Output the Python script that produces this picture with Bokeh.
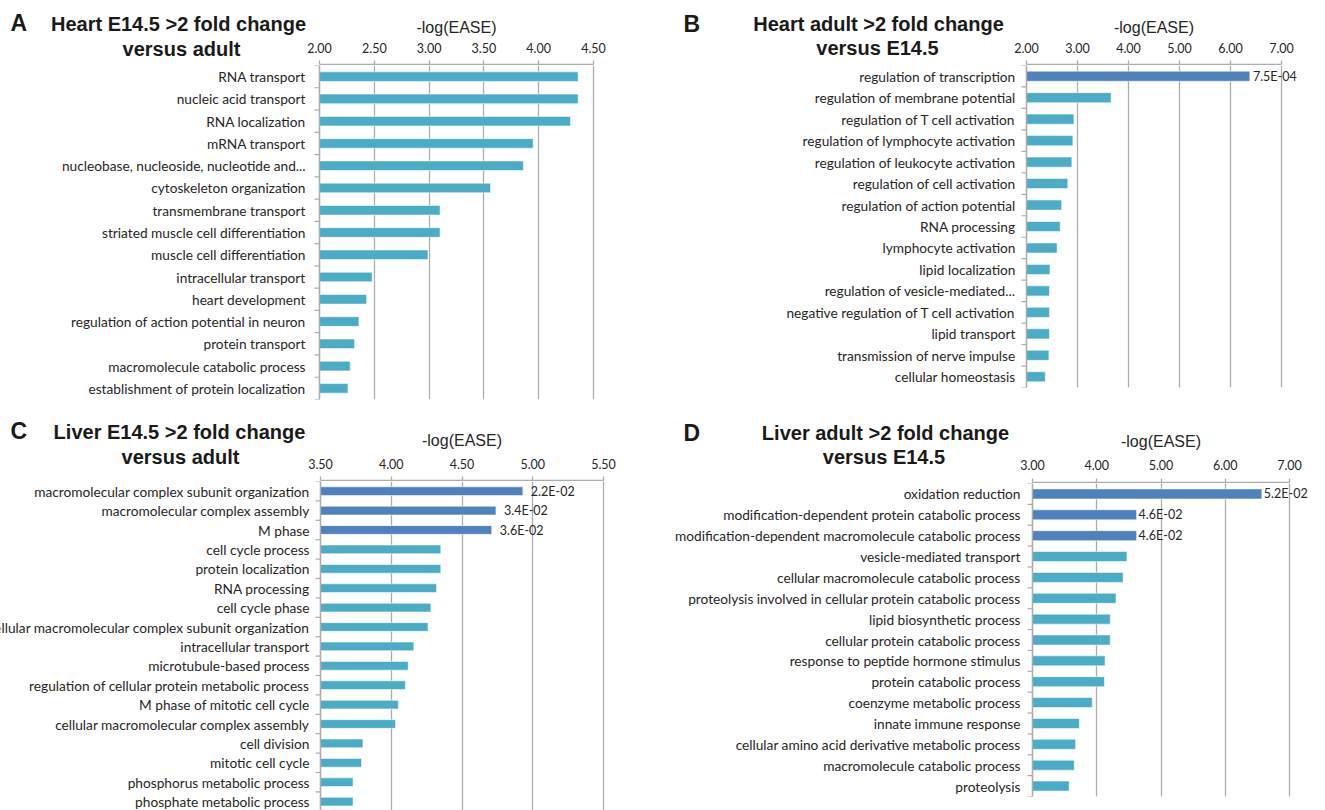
import numpy as np
from bokeh.plotting import figure
from bokeh.models import ColumnDataSource, Range1d, FixedTicker, NumeralTickFormatter, Grid
from bokeh.layouts import column, row
from bokeh.core.properties import value
from bokeh.embed import file_html
from bokeh.resources import INLINE

TEAL = "#4BACC6"
BLUE = "#4F81BD"
TXT = "#262626"
GRID = "#ADADAD"

# ---------------- data ----------------
A_letter = "A"
A_title = ["Heart E14.5 >2 fold change", "versus adult"]
A_cats = ["RNA transport", "nucleic acid transport", "RNA localization", "mRNA transport",
          "nucleobase, nucleoside, nucleotide and...", "cytoskeleton organization",
          "transmembrane transport", "striated muscle cell differentiation",
          "muscle cell differentiation", "intracellular transport", "heart development",
          "regulation of action potential in neuron", "protein transport",
          "macromolecule catabolic process", "establishment of protein localization"]
A_vals = [4.36, 4.36, 4.29, 3.95, 3.86, 3.56, 3.10, 3.10, 2.99, 2.48, 2.43, 2.36, 2.32, 2.28, 2.26]
A_notes = ["", "", "", "", "", "", "", "", "", "", "", "", "", "", ""]
A_ticks = [2.0, 2.5, 3.0, 3.5, 4.0, 4.5]

B_letter = "B"
B_title = ["Heart adult >2 fold change", "versus E14.5"]
B_cats = ["regulation of transcription", "regulation of membrane potential",
          "regulation of T cell activation", "regulation of lymphocyte activation",
          "regulation of leukocyte activation", "regulation of cell activation",
          "regulation of action potential", "RNA processing", "lymphocyte activation",
          "lipid localization", "regulation of vesicle-mediated...",
          "negative regulation of T cell activation", "lipid transport",
          "transmission of nerve impulse", "cellular homeostasis"]
B_vals = [6.38, 3.66, 2.93, 2.91, 2.89, 2.81, 2.69, 2.66, 2.60, 2.46, 2.45, 2.45, 2.45, 2.44, 2.37]
B_notes = ["7.5E-04", "", "", "", "", "", "", "", "", "", "", "", "", "", ""]
B_ticks = [2.0, 3.0, 4.0, 5.0, 6.0, 7.0]

C_letter = "C"
C_title = ["Liver E14.5 >2 fold change", "versus adult"]
C_cats = ["macromolecular complex subunit organization", "macromolecular complex assembly",
          "M phase", "cell cycle process", "protein localization", "RNA processing",
          "cell cycle phase", "cellular macromolecular complex subunit organization",
          "intracellular transport", "microtubule-based process",
          "regulation of cellular protein metabolic process", "M phase of mitotic cell cycle",
          "cellular macromolecular complex assembly", "cell division", "mitotic cell cycle",
          "phosphorus metabolic process", "phosphate metabolic process"]
C_vals = [4.93, 4.74, 4.71, 4.35, 4.35, 4.32, 4.28, 4.26, 4.16, 4.12, 4.10, 4.05, 4.03,
          3.80, 3.79, 3.73, 3.73]
C_notes = ["2.2E-02", "3.4E-02", "3.6E-02", "", "", "", "", "", "", "", "", "", "", "", "", "", ""]
C_ticks = [3.5, 4.0, 4.5, 5.0, 5.5]

D_letter = "D"
D_title = ["Liver adult >2 fold change", "versus E14.5"]
D_cats = ["oxidation reduction", "modification-dependent protein catabolic process",
          "modification-dependent macromolecule catabolic process", "vesicle-mediated transport",
          "cellular macromolecule catabolic process",
          "proteolysis involved in cellular protein catabolic process",
          "lipid biosynthetic process", "cellular protein catabolic process",
          "response to peptide hormone stimulus", "protein catabolic process",
          "coenzyme metabolic process", "innate immune response",
          "cellular amino acid derivative metabolic process",
          "macromolecule catabolic process", "proteolysis"]
D_vals = [6.57, 4.62, 4.62, 4.47, 4.41, 4.30, 4.21, 4.21, 4.13, 4.12, 3.93, 3.73, 3.67, 3.65, 3.57]
D_notes = ["5.2E-02", "4.6E-02", "4.6E-02", "", "", "", "", "", "", "", "", "", "", "", ""]
D_ticks = [3.0, 4.0, 5.0, 6.0, 7.0]


def base_fig(**kw):
    f = figure(output_backend="svg", toolbar_location=None, **kw)
    f.outline_line_color = None
    f.background_fill_color = None
    f.border_fill_color = None
    try:
        f.frame_align = False   # keep each small figure's own frame geometry
    except Exception:
        pass
    return f


def panel(letter, title, cats, vals, notes, ticks, g):
    W, H, T, Bb, Wt, L, axis_px = g["W"], g["H"], g["T"], g["Bb"], g["Wt"], g["L"], g["axis_px"]
    n = len(cats)
    ppu = axis_px / (ticks[-1] - ticks[0])

    # ---- title block (letter + two bold lines)
    t = base_fig(width=Wt, height=T, x_range=Range1d(0, Wt), y_range=Range1d(T, 0),
                 x_axis_type=None, y_axis_type=None, min_border=0)
    sp = g["spots"]
    t.text(x=[sp[0][0]], y=[sp[0][1]], text=[letter], text_font=value("Liberation Sans"),
           text_font_style="bold", text_font_size=value("23px"), text_color="#1a1a1a",
           text_align="left", text_baseline="middle")
    t.text(x=[sp[1][0], sp[2][0]], y=[sp[1][1], sp[2][1]], text=title,
           text_font=value("Liberation Sans"), text_font_style="bold",
           text_font_size=value("20px"), text_color="#1a1a1a",
           text_align="center", text_baseline="middle")

    # ---- value axis (top)
    a = base_fig(width=W - Wt, height=T, x_range=Range1d(ticks[0], ticks[-1]),
                 y_range=Range1d(0, 1), x_axis_location="above", y_axis_type=None,
                 min_border_left=L - Wt, min_border_right=W - L - axis_px,
                 min_border_top=T - 1, min_border_bottom=0)
    a.xgrid.visible = False
    xa = a.xaxis[0]
    xa.ticker = FixedTicker(ticks=ticks)
    xa.formatter = NumeralTickFormatter(format="0.00")
    xa.axis_label = "-log(EASE)"
    xa.axis_label_text_font = "Liberation Sans"
    xa.axis_label_text_font_style = "normal"
    xa.axis_label_text_font_size = "16px"
    xa.axis_label_text_color = TXT
    xa.axis_label_standoff = g["lab_sto"]
    xa.major_label_text_font = "Lato"
    xa.major_label_text_font_size = "12.5px"
    xa.major_label_text_color = TXT
    xa.major_label_standoff = g["tick_sto"]
    xa.major_tick_out = 4
    xa.major_tick_in = 0
    xa.minor_tick_out = 0
    xa.minor_tick_in = 0
    xa.axis_line_color = GRID
    xa.major_tick_line_color = GRID
    xa.axis_line_width = 1.3
    xa.major_tick_line_width = 1.3

    # ---- bars + category labels
    ch = H - T
    frame_h = ch - Bb
    y_end = n - 0.5
    y_start = -0.5 if g["spacing"] is None else y_end - frame_h / g["spacing"]
    c = base_fig(width=W, height=ch,
                 x_range=Range1d(ticks[0] - L / ppu, ticks[0] + (W - L) / ppu),
                 y_range=Range1d(y_start, y_end), x_axis_type=None, y_axis_type=None,
                 min_border_left=0, min_border_right=0, min_border_top=0,
                 min_border_bottom=Bb)
    c.add_layout(Grid(dimension=0, ticker=FixedTicker(ticks=ticks),
                      grid_line_color=GRID, grid_line_width=1.3))

    pos = np.arange(n - 1, -1, -1)
    colors = [BLUE if s else TEAL for s in notes]
    src = ColumnDataSource(dict(y=pos, v=vals, cat=cats, color=colors,
                                left=[ticks[0]] * n))
    c.hbar(y="y", left="left", right="v", height=g["bar_h"], fill_color="color",
           line_color="white", line_alpha=0.55, line_width=1, source=src)

    # category axis line and separator ticks
    bnd = [k - 0.5 for k in range(n + 1)]
    c.segment(x0=[ticks[0]], y0=[-0.5], x1=[ticks[0]], y1=[n - 0.5],
              line_color=GRID, line_width=1.3)
    c.segment(x0=[ticks[0] - 5 / ppu] * len(bnd), y0=bnd, x1=[ticks[0]] * len(bnd), y1=bnd,
              line_color=GRID, line_width=1.2)

    c.text(x="left", y="y", text="cat", source=src, x_offset=g["lab_off"],
           text_align="right", text_baseline="middle", text_font=value("Lato"),
           text_font_size=value("13.7px"), text_color=TXT)

    idx = [i for i, s in enumerate(notes) if s]
    nsrc = ColumnDataSource(dict(y=[pos[i] for i in idx], v=[vals[i] for i in idx],
                                 note=[notes[i] for i in idx]))
    c.text(x="v", y="y", text="note", source=nsrc, x_offset=g["note_off"],
           text_align="left", text_baseline="middle", text_font=value("Lato"),
           text_font_size=value("12.5px"), text_color=TXT)

    return column(row(t, a), c)


gA = dict(W=660, H=410, T=65, Bb=11, Wt=306, L=319, axis_px=274, spacing=None,
          bar_h=0.43, note_off=6, lab_sto=4, tick_sto=8, lab_off=-14,
          spots=[(10, 22.7), (178, 23.5), (181, 48)])
gB = dict(W=649, H=410, T=65, Bb=23, Wt=350, L=366, axis_px=255, spacing=None,
          bar_h=0.47, note_off=3, lab_sto=4, tick_sto=8, lab_off=-11,
          spots=[(23, 23), (218, 23), (217, 47)])
gC = dict(W=660, H=400, T=71, Bb=0, Wt=306, L=320, axis_px=283, spacing=19.4,
          bar_h=0.45, note_off=8, lab_sto=7, tick_sto=8, lab_off=-11,
          spots=[(10, 20), (179, 21.5), (180, 46)])
gD = dict(W=649, H=400, T=73, Bb=14, Wt=355, L=372, axis_px=257, spacing=None,
          bar_h=0.48, note_off=2, lab_sto=7, tick_sto=9, lab_off=-12,
          spots=[(23, 22), (225, 22), (223.5, 46)])

layout = column(
    row(panel(A_letter, A_title, A_cats, A_vals, A_notes, A_ticks, gA),
        panel(B_letter, B_title, B_cats, B_vals, B_notes, B_ticks, gB)),
    row(panel(C_letter, C_title, C_cats, C_vals, C_notes, C_ticks, gC),
        panel(D_letter, D_title, D_cats, D_vals, D_notes, D_ticks, gD)))
open("out.html", "w").write(file_html(layout, INLINE))
